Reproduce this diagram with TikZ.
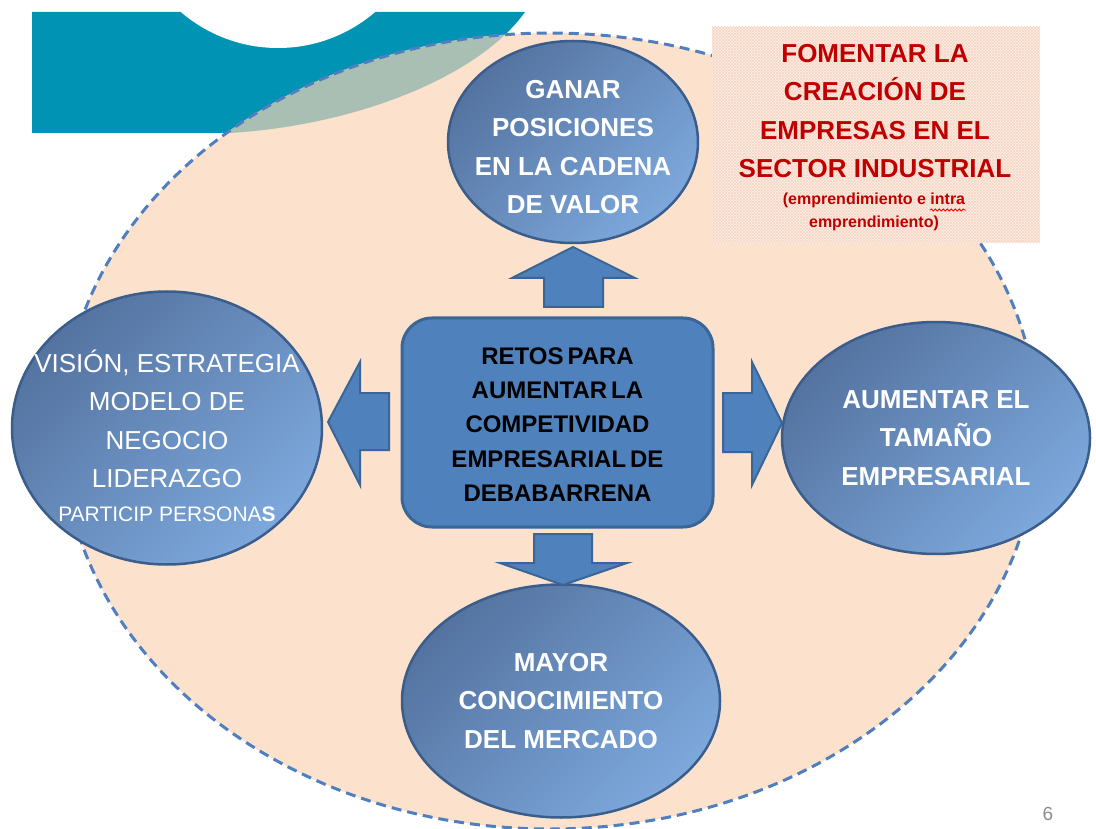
\documentclass[tikz,border=0pt]{standalone}
\usepackage{fontspec}
\setmainfont{Liberation Sans}
\newfontfamily\tightfont{Liberation Sans}[WordSpace=0.6]
\usepackage{tikz}
\usetikzlibrary{positioning, calc, patterns, shapes.geometric}
\usetikzlibrary{decorations.pathmorphing}

\definecolor{tealband}{HTML}{0093B3}
\definecolor{overlapgreen}{HTML}{A9BFB3}
\definecolor{peach}{HTML}{FCE1CD}
\definecolor{dashblue}{HTML}{4F7FBE}
\definecolor{ovalDark}{HTML}{5473A0}
\definecolor{ovalLight}{HTML}{7DA8DC}
\definecolor{ovalEdge}{HTML}{3A5D8C}
\definecolor{boxblue}{HTML}{4F81BD}
\definecolor{boxEdge}{HTML}{3A6597}
\definecolor{darkred}{HTML}{C00000}
\definecolor{patternbg}{HTML}{FDEFE7}
\definecolor{patternline}{HTML}{F6D5C2}

\tikzset{
  oval/.style={ellipse, draw=ovalEdge, line width=2.5pt, top color=ovalDark, bottom color=ovalLight, shading angle=45, inner sep=0pt},
  ovaltext/.style={text=white, align=center, font=\fontsize{26}{38.5}\selectfont},
  ovalbold/.style={text=white, align=center, font=\bfseries\fontsize{26}{38.5}\selectfont},
  blockarrow/.style={fill=boxblue, draw=boxEdge, line width=2pt, line join=miter},
}

\begin{document}
\begin{tikzpicture}[x=1pt, y=-1pt]
  \useasboundingbox (0,0) rectangle (1096,829);
  \clip (0,0) rectangle (1096,829);

  % Teal band with white circle cut
  \fill[tealband] (32,12) -- (525,12) .. controls (480,75) and (360,125) .. (230,133) -- (32,133) -- cycle;
  \fill[white] (278,-101) circle (149);

  % Big dashed ellipse
  \fill[peach] (550,431) ellipse (488 and 398);
  \begin{scope}
    \clip (550,431) ellipse (488 and 398);
    \fill[overlapgreen] (32,12) -- (525,12) .. controls (480,75) and (360,125) .. (230,133) -- (32,133) -- cycle;
  \end{scope}
  \draw[dashblue, line width=3pt, dash pattern=on 10pt off 6pt] (550,431) ellipse (488 and 398);

  % Top right box
  \node[fill=patternbg, minimum width=328, minimum height=216, postaction={pattern=crosshatch, pattern color=patternline}] (fomento) at (876,135) {};
  \node[text=darkred, align=center, font=\bfseries\fontsize{26}{38.3}\selectfont] (fomtitle) at (875,111) {FOMENTAR LA\\CREACIÓN DE\\EMPRESAS EN EL\\SECTOR INDUSTRIAL};
  \node[text=darkred, align=center, font=\bfseries\fontsize{16}{23}\selectfont] (emprend) at (874,212) {(emprendimiento e intra\\emprendimiento)};
  \draw[red, line width=0.8pt, decorate, decoration={snake, amplitude=1pt, segment length=4pt}] (930,210) -- (966,210);

  % Ellipses
  \node[oval, minimum width=250, minimum height=202] (ganar) at (573,142) {};
  \node[oval, minimum width=310, minimum height=273] (vision) at (167,428) {};
  \node[oval, minimum width=308, minimum height=232] (tamano) at (936,438) {};
  \node[oval, minimum width=318, minimum height=233] (mercado) at (561,701) {};

  \node[ovalbold] at ($(ganar)+(0,5)$) {GANAR\\POSICIONES\\EN LA CADENA\\DE VALOR};
  \node[ovaltext] at ($(vision)+(0,8)$) {VISIÓN, ESTRATEGIA\\MODELO DE\\NEGOCIO\\LIDERAZGO\\[-4.5pt]{\fontsize{21}{34}\selectfont PARTICIP PERSONA\textbf{S}}};
  \node[ovalbold] at (tamano) {AUMENTAR EL\\TAMAÑO\\EMPRESARIAL};
  \node[ovalbold] at (mercado) {MAYOR\\CONOCIMIENTO\\DEL MERCADO};

  % Centre box
  \node[draw=boxEdge, line width=3pt, fill=boxblue, rounded corners=30pt, minimum width=311, minimum height=209] (retos) at (557.5,422.5) {};
  \node[align=center, font=\tightfont\bfseries\fontsize{24}{34.2}\selectfont] at ($(retos)+(0,2)$) {RETOS PARA\\AUMENTAR LA\\COMPETIVIDAD\\EMPRESARIAL DE\\DEBABARRENA};

  % Block arrows
  \draw[blockarrow] (544,307) -- (544,278) -- (512,278) -- (573,247) -- (635,278) -- (603,278) -- (603,307) -- cycle;
  \draw[blockarrow] (389,393) -- (360,393) -- (360,362) -- (328,422) -- (360,485) -- (360,450) -- (389,450) -- cycle;
  \draw[blockarrow] (723,393) -- (752,393) -- (752,362) -- (782,423) -- (752,485) -- (752,452) -- (723,452) -- cycle;
  \draw[blockarrow] (534,534) -- (592,534) -- (592,563) -- (627,563) -- (563,585) -- (500,563) -- (534,563) -- cycle;

  % Page number
  \node[text=black!45, font=\fontsize{19}{21}\selectfont] (pagenum) at (1048,814) {6};
\end{tikzpicture}
\end{document}
